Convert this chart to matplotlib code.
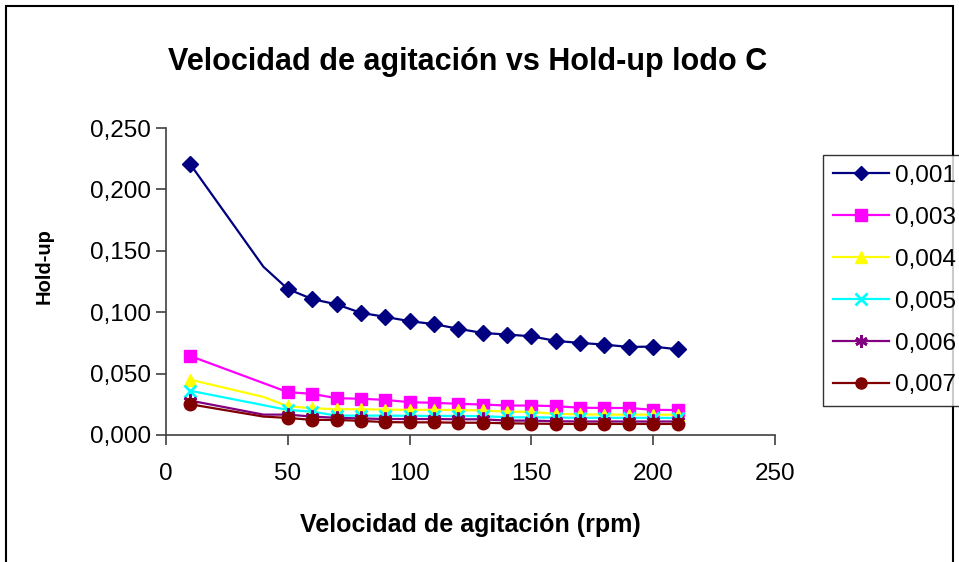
import numpy as np
import matplotlib
matplotlib.use("Agg")
import matplotlib.pyplot as plt
from matplotlib.lines import Line2D
from matplotlib.patches import Rectangle

# ---- data ----
rpm = [10, 40, 50, 60, 70, 80, 90, 100, 110, 120, 130, 140, 150, 160, 170, 180, 190, 200, 210]
labels = ["0,001", "0,003", "0,004", "0,005", "0,006", "0,007"]
s_0001 = [0.2204, 0.137, 0.1189, 0.1107, 0.1064, 0.0995, 0.0962, 0.0927, 0.0903, 0.0865,
          0.0831, 0.0818, 0.0804, 0.0766, 0.0750, 0.0736, 0.0717, 0.0720, 0.0698]
s_0003 = [0.0643, None, 0.0349, 0.0335, 0.0300, 0.0295, 0.0286, 0.0267, 0.0262, 0.0254,
          0.0248, 0.0240, 0.0240, 0.0235, 0.0222, 0.0220, 0.0220, 0.0205, 0.0203]
s_0004 = [0.0450, 0.031, 0.0234, 0.0218, 0.0210, 0.0210, 0.0207, 0.0205, 0.0205, 0.0203,
          0.0200, 0.0190, 0.0188, 0.0172, 0.0168, 0.0166, 0.0166, 0.0166, 0.0165]
s_0005 = [0.0360, None, 0.0204, 0.0190, 0.0158, 0.0158, 0.0158, 0.0156, 0.0155, 0.0155,
          0.0154, 0.0144, 0.0144, 0.0142, 0.0140, 0.0140, 0.0140, 0.0140, 0.0138]
s_0006 = [0.0280, 0.0166, 0.0166, 0.0150, 0.0140, 0.0135, 0.0130, 0.0130, 0.0130, 0.0128,
          0.0128, 0.0117, 0.0117, 0.0112, 0.0110, 0.0110, 0.0110, 0.0110, 0.0110]
s_0007 = [0.0250, 0.0150, 0.0139, 0.0123, 0.0123, 0.0115, 0.0105, 0.0103, 0.0103, 0.0100,
          0.0100, 0.0095, 0.0093, 0.0090, 0.0090, 0.0090, 0.0090, 0.0090, 0.0090]
unmarked_x = [40]

series = [s_0001, s_0003, s_0004, s_0005, s_0006, s_0007]
colors = ["#000080", "#FF00FF", "#FFFF00", "#00FFFF", "#800080", "#800000"]
markers = ["D", "s", "^", "x", (6, 2, 0), "o"]
msizes = [8, 9, 9, 9, 10, 9]

xticks = [0, 50, 100, 150, 200, 250]
yticks = [0.0, 0.05, 0.10, 0.15, 0.20, 0.25]

plt.rcParams['font.family'] = ['Liberation Sans', 'DejaVu Sans']

W, H = 959, 562
fig = plt.figure(figsize=(W / 100, H / 100), dpi=100)
fig.patch.set_facecolor("white")

ax = fig.add_axes([166 / W, 1 - 435 / H, (775 - 166) / W, (435 - 128) / H])

def mew(m):
    return 2 if (m == "x" or isinstance(m, tuple)) else 1

for ys, c, m, ms, lab in zip(series, colors, markers, msizes, labels):
    xs = [x for x, y in zip(rpm, ys) if y is not None]
    yv = [y for y in ys if y is not None]
    mark_idx = [i for i, x in enumerate(xs) if x not in unmarked_x]
    ax.plot(xs, yv, color=c, lw=1.6, marker=m, markersize=ms, markevery=mark_idx,
            markerfacecolor=c, markeredgecolor=c, markeredgewidth=mew(m),
            label=lab, clip_on=False)

ax.set_xlim(0, 250)
ax.set_ylim(0, 0.25)
ax.set_xticks(xticks)
ax.set_yticks(yticks)
ax.set_xticklabels([str(t) for t in xticks])
ax.set_yticklabels([f"{t:.3f}".replace(".", ",") for t in yticks])
for s in ["top", "right"]:
    ax.spines[s].set_visible(False)
for s in ["left", "bottom"]:
    ax.spines[s].set_color("#404040")
    ax.spines[s].set_linewidth(1.2)
ax.tick_params(axis="both", direction="out", length=7, width=1.2, color="#404040",
               labelsize=17.5, pad=4)
ax.tick_params(axis="x", pad=13)

ax.set_xlabel("Velocidad de agitación (rpm)", fontsize=18, fontweight="bold", labelpad=20)
ax.set_ylabel("Hold-up", fontsize=14.5, fontweight="bold")
ax.yaxis.set_label_coords((54 - 166) / 609, (435 - 266) / 307)

fig.text(468 / W, 1 - 62 / H, "Velocidad de agitación vs Hold-up lodo C",
         ha="center", va="center", fontsize=22, fontweight="bold")

# legend
handles = [Line2D([0], [0], color=c, lw=1.6, marker=m, markersize=ms - 1,
                  markerfacecolor=c, markeredgecolor=c, markeredgewidth=mew(m))
           for c, m, ms in zip(colors, markers, msizes)]
leg = fig.legend(handles, labels, loc="upper left",
                 bbox_to_anchor=(823 / W, 1 - 155 / H), bbox_transform=fig.transFigure,
                 fontsize=17.5, frameon=True, fancybox=False, edgecolor="black",
                 handlelength=2.3, handletextpad=0.25, labelspacing=0.82,
                 borderpad=0.4, borderaxespad=0)
leg.get_frame().set_linewidth(1.0)
leg.set_zorder(5)

# outer chart border (bottom edge outside the image)
fig.patches.append(Rectangle((6 / W, -0.05), (953 - 6) / W, 1.05 - 6 / H,
                             transform=fig.transFigure, fill=False,
                             edgecolor="black", lw=1.5, zorder=0))

fig.savefig("out.png", dpi=100, facecolor="white")
